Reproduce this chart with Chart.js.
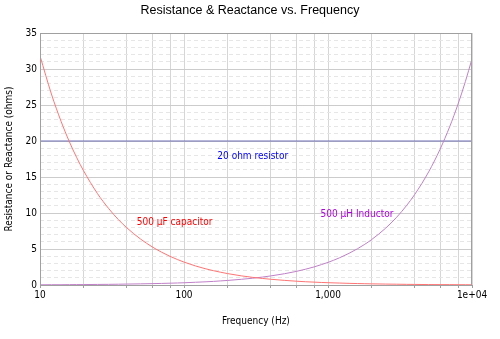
<!DOCTYPE html>
<html>
<head>
<meta charset="utf-8">
<script src="https://cdn.jsdelivr.net/npm/chart.js@4"></script>
<style>
html,body{margin:0;padding:0;background:#fff;}
#wrap{width:500px;height:339px;position:relative;}
</style>
</head>
<body>
<div id="wrap"><canvas id="c" width="500" height="339"></canvas></div>
<script>
// ---- data ----
const frequencies = [10,12,14,16,18,20,25,30,35,40,50,60,70,80,90,
  100,120,140,160,180,200,250,300,350,400,500,600,700,800,900,
  1000,1200,1400,1600,1800,2000,2500,3000,3500,4000,5000,6000,7000,8000,9000,10000];
const capacitorOhms = [31.83,26.53,22.74,19.89,17.68,15.92,12.73,10.61,9.09,7.96,6.37,5.31,4.55,3.98,3.54,
  3.18,2.65,2.27,1.99,1.77,1.59,1.27,1.06,0.91,0.80,0.64,0.53,0.45,0.40,0.35,
  0.32,0.27,0.23,0.20,0.18,0.16,0.13,0.11,0.09,0.08,0.06,0.05,0.05,0.04,0.04,0.03];
const inductorOhms = [0.03,0.04,0.04,0.05,0.06,0.06,0.08,0.09,0.11,0.13,0.16,0.19,0.22,0.25,0.28,
  0.31,0.38,0.44,0.50,0.57,0.63,0.79,0.94,1.10,1.26,1.57,1.88,2.20,2.51,2.83,
  3.14,3.77,4.40,5.03,5.65,6.28,7.85,9.42,11.00,12.57,15.71,18.85,21.99,25.13,28.27,31.42];
const resistorFreqs = [10,10000];
const resistorOhms = [20,20];
const xMajorTicks = [10,100,1000,10000];
const xTickLabels = ['10','100','1,000','1e+04'];
const xMinorTicks = [20,40,60,80,200,400,600,800,2000,4000,6000,8000];
const seriesNames = ['500 µF capacitor','500 µH Inductor','20 ohm resistor'];

// ---- styling ----
const FONT = '"DejaVu Sans Condensed", "DejaVu Sans", sans-serif';
const labelAnchors = [
  {text: seriesNames[2], x: 300, y: 17.8, color: '#0000ff'},
  {text: seriesNames[0], x: 86,  y: 8.75, color: '#ff0000'},
  {text: seriesNames[1], x: 1590, y: 9.8, color: '#b000e0'}
];
const toPts = (xs, ys) => xs.map((x, i) => ({x: x, y: ys[i]}));

const frame = {
  id: 'frame',
  afterDraw(chart) {
    const a = chart.chartArea, ctx = chart.ctx;
    ctx.save();
    ctx.strokeStyle = '#a0a0a0';
    ctx.lineWidth = 1;
    ctx.strokeRect(Math.round(a.left) + 0.5, Math.round(a.top) + 0.5,
                   Math.round(a.right - a.left) - 1, Math.round(a.bottom - a.top));
    ctx.restore();
  }
};
const annot = {
  id: 'annot',
  afterDatasetsDraw(chart) {
    const ctx = chart.ctx, sx = chart.scales.x, sy = chart.scales.y;
    ctx.save();
    ctx.font = '10px ' + FONT;
    ctx.textAlign = 'center';
    ctx.textBaseline = 'middle';
    labelAnchors.forEach(l => {
      ctx.fillStyle = l.color;
      ctx.fillText(l.text, sx.getPixelForValue(l.x), sy.getPixelForValue(l.y));
    });
    ctx.restore();
  }
};

new Chart(document.getElementById('c'), {
  type: 'line',
  data: {
    datasets: [
      {label: seriesNames[0], data: toPts(frequencies, capacitorOhms), borderColor: '#ff7474', borderWidth: 1, pointRadius: 0, cubicInterpolationMode: 'monotone'},
      {label: seriesNames[1], data: toPts(frequencies, inductorOhms), borderColor: '#c080c8', borderWidth: 1, pointRadius: 0, cubicInterpolationMode: 'monotone'},
      {label: seriesNames[2], data: toPts(resistorFreqs, resistorOhms), borderColor: '#6e6eb8', borderWidth: 1, pointRadius: 0}
    ]
  },
  plugins: [frame, annot],
  options: {
    responsive: false,
    animation: false,
    devicePixelRatio: 1,
    layout: {padding: {left: 0, right: 0, top: 0, bottom: 0}},
    plugins: {
      legend: {display: false},
      tooltip: {enabled: false},
      title: {
        display: true,
        text: 'Resistance & Reactance vs. Frequency',
        color: '#000',
        font: {family: '"Liberation Sans", Arial, sans-serif', size: 12.5, weight: 'normal', lineHeight: 1.2},
        padding: {top: 3, bottom: 15}
      }
    },
    scales: {
      x: {
        type: 'logarithmic',
        min: 10, max: 10000,
        afterBuildTicks(scale) {
          scale.ticks = xMajorTicks.concat(xMinorTicks).sort((a, b) => a - b).map(v => ({value: v}));
        },
        afterFit(scale) { scale.height = 54; },
        ticks: {
          autoSkip: false, maxRotation: 0, minRotation: 0, padding: 1,
          color: '#000', font: {family: FONT, size: 10},
          callback(v) { const i = xMajorTicks.indexOf(v); return i >= 0 ? xTickLabels[i] : ''; }
        },
        grid: {color: '#d6d6d6', lineWidth: 1, drawTicks: true, tickLength: 3, tickColor: '#a0a0a0'},
        border: {display: true, color: '#a0a0a0'},
        title: {display: true, text: 'Frequency (Hz)', color: '#000', font: {family: FONT, size: 10, lineHeight: 1.2}, padding: {top: 0, bottom: 12}}
      },
      y2: {
        position: 'left',
        min: 0, max: 35,
        afterFit(scale) { scale.width = 0; },
        ticks: {display: false, stepSize: 1},
        grid: {color: ctx => (ctx.tick && ctx.tick.value % 5 === 0) ? 'rgba(0,0,0,0)' : '#e6e6e6', lineWidth: 1, drawTicks: false},
        border: {display: false, dash: [4, 3]}
      },
      yRight: {
        position: 'right',
        min: 0, max: 35,
        afterFit(scale) { scale.width = 28; },
        ticks: {display: false},
        grid: {display: false, drawTicks: false},
        border: {display: false}
      },
      y: {
        position: 'left',
        min: 0, max: 35,
        afterFit(scale) { scale.width = 40; },
        ticks: {stepSize: 5, padding: 3, color: '#000', font: {family: FONT, size: 10}},
        grid: {color: '#cccccc', lineWidth: 1, drawTicks: false},
        border: {display: true, color: '#a0a0a0'},
        title: {display: true, text: 'Resistance or Reactance (ohms)', color: '#000', font: {family: FONT, size: 10, lineHeight: 1.2}, padding: {top: 3, bottom: 0}}
      }
    }
  }
});
</script>
</body>
</html>
